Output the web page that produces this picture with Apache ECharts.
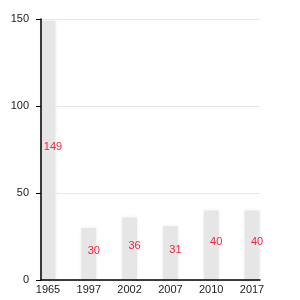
<!DOCTYPE html>
<html><head><meta charset="utf-8">
<script src="https://cdn.jsdelivr.net/npm/echarts@6/dist/echarts.min.js"></script>
<style>html,body{margin:0;padding:0;background:#fff}#c{width:300px;height:300px}</style>
</head><body><div id="c"></div>
<script>
const categories = ['1965','1997','2002','2007','2010','2017'];
const values = [149, 30, 36, 31, 40, 40];
const yTicks = [0, 50, 100, 150];

const chart = echarts.init(document.getElementById('c'), null, {renderer:'canvas'});
const font = 'Liberation Sans, Arial, sans-serif';
chart.setOption({
  animation: false,
  grid: [
    {left: 41, right: 40, top: 19, bottom: 20},
    {left: 48, right: 48, top: 19, bottom: 20}
  ],
  xAxis: [
    {gridIndex: 0, type: 'category', data: categories, boundaryGap: false, z: 5,
     axisLine: {show: true, lineStyle: {color: '#000', width: 1.5}},
     axisTick: {show: false}, axisLabel: {show: false}, splitLine: {show: false}},
    {gridIndex: 1, type: 'category', data: categories, boundaryGap: false,
     axisLine: {show: false}, axisTick: {show: false},
     axisLabel: {color: '#222', fontSize: 11, fontFamily: font, margin: 4},
     splitLine: {show: false}}
  ],
  yAxis: [
    {gridIndex: 0, type: 'value', min: yTicks[0], max: yTicks[yTicks.length-1], interval: 50, z: 5,
     axisLine: {show: true, lineStyle: {color: '#000', width: 1.5}},
     axisTick: {show: true, length: 5, lineStyle: {color: '#000'}},
     axisLabel: {color: '#222', fontSize: 11, fontFamily: font, margin: 12},
     splitLine: {show: true, lineStyle: {color: '#e6e6e6'}}},
    {gridIndex: 1, type: 'value', min: yTicks[0], max: yTicks[yTicks.length-1], interval: 50,
     show: false, splitLine: {show: false}}
  ],
  series: [{
    type: 'bar', xAxisIndex: 1, yAxisIndex: 1, data: values, clip: false,
    barWidth: 15, z: 2,
    itemStyle: {color: '#e6e6e6', shadowColor: 'rgba(0,0,0,0.06)', shadowBlur: 4},
    label: {show: true, position: 'inside', offset: [5, -3], color: '#f0263c',
            fontSize: 11, fontFamily: font}
  }]
});
</script></body></html>
